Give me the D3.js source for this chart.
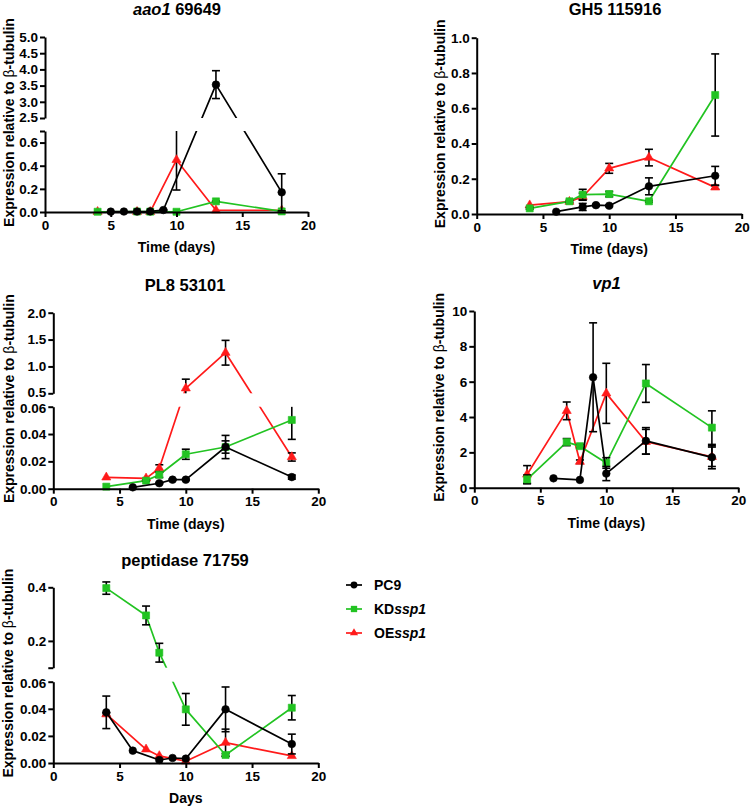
<!DOCTYPE html>
<html><head><meta charset="utf-8">
<script src="https://cdn.jsdelivr.net/npm/d3@7"></script>
<style>
body{margin:0;background:#fff}
svg text{font-family:"Liberation Sans",Arial,sans-serif;font-weight:bold;fill:#000}
</style>
</head><body>
<svg id="chart" width="750" height="809"></svg>
<script>
// ---------- shared ----------
const dayTicks = [0, 5, 10, 15, 20];
const seriesNames = ["PC9", "KD", "OE"];

// ---------- aao1 69649 ----------
const aao1_oe_days = [4, 7, 8, 10, 13, 18];
const aao1_oe = [0.002, 0.002, 0.002, 0.45, 0.015, 0.015];
const aao1_oe_err = [0, 0, 0, 0.26, 0, 0];
const aao1_kd_days = [4, 7, 8, 10, 13, 18];
const aao1_kd = [0.002, 0.004, 0.003, 0.002, 0.092, 0.005];
const aao1_kd_err = [0, 0, 0, 0, 0.004, 0];
const aao1_pc9_days = [5, 6, 7, 8, 9, 13, 18];
const aao1_pc9 = [0.003, 0.004, 0.004, 0.005, 0.017, 3.53, 0.17];
const aao1_pc9_err = [0, 0, 0, 0, 0.004, 0.43, 0.16];
const aao1_ticksLow = [0, 0.2, 0.4, 0.6, 0.7];
const aao1_labelsLow = ["0.0", "0.2", "0.4", "0.6", ""];
const aao1_ticksHigh = [2.5, 3.0, 3.5, 4.0, 4.5, 5.0];
const aao1_labelsHigh = ["2.5", "3.0", "3.5", "4.0", "4.5", "5.0"];

// ---------- GH5 115916 ----------
const gh5_oe_days = [4, 7, 8, 10, 13, 18];
const gh5_oe = [0.05, 0.07, 0.098, 0.259, 0.32, 0.151];
const gh5_oe_err = [0, 0, 0.02, 0.028, 0.047, 0.01];
const gh5_kd_days = [4, 7, 8, 10, 13, 18];
const gh5_kd = [0.032, 0.072, 0.11, 0.113, 0.072, 0.675];
const gh5_kd_err = [0.005, 0.005, 0.03, 0.015, 0.005, 0.233];
const gh5_pc9_days = [6, 8, 9, 10, 13, 18];
const gh5_pc9 = [0.013, 0.04, 0.05, 0.047, 0.157, 0.217];
const gh5_pc9_err = [0, 0.02, 0.005, 0.005, 0.048, 0.053];
const gh5_ticks = [0, 0.2, 0.4, 0.6, 0.8, 1.0];
const gh5_labels = ["0.0", "0.2", "0.4", "0.6", "0.8", "1.0"];

// ---------- PL8 53101 ----------
const pl8_oe_days = [4, 7, 8, 10, 13, 18];
const pl8_oe = [0.0083, 0.0076, 0.015, 0.593, 1.255, 0.0232];
const pl8_oe_err = [0, 0, 0.0025, 0.17, 0.23, 0.003];
const pl8_kd_days = [4, 7, 8, 10, 13, 18];
const pl8_kd = [0.0015, 0.0059, 0.0102, 0.0252, 0.0305, 0.0503];
const pl8_kd_err = [0, 0.0005, 0.002, 0.0037, 0.0045, 0.0142];
const pl8_pc9_days = [6, 8, 9, 10, 13, 18];
const pl8_pc9 = [0.001, 0.004, 0.0066, 0.0066, 0.0305, 0.0085];
const pl8_pc9_err = [0, 0.0005, 0.0005, 0.0005, 0.0085, 0.0015];
const pl8_ticksLow = [0, 0.02, 0.04, 0.06];
const pl8_labelsLow = ["0.00", "0.02", "0.04", "0.06"];
const pl8_ticksHigh = [0.5, 1.0, 1.5, 2.0];
const pl8_labelsHigh = ["0.5", "1.0", "1.5", "2.0"];

// ---------- vp1 ----------
const vp1_oe_days = [4, 7, 8, 10, 13, 18];
const vp1_oe = [0.75, 4.35, 1.47, 5.34, 2.6, 1.75];
const vp1_oe_err = [0.5, 0.5, 0.1, 1.7, 0.7, 0.55];
const vp1_kd_days = [4, 7, 8, 10, 13, 18];
const vp1_kd = [0.47, 2.58, 2.35, 1.4, 5.9, 3.4];
const vp1_kd_err = [0.25, 0.2, 0.1, 0.3, 1.07, 0.95];
const vp1_pc9_days = [6, 8, 9, 10, 13, 18];
const vp1_pc9 = [0.53, 0.44, 6.25, 0.8, 2.65, 1.72];
const vp1_pc9_err = [0, 0, 3.08, 0.4, 0.75, 0.65];
const vp1_ticks = [0, 2, 4, 6, 8, 10];
const vp1_labels = ["0", "2", "4", "6", "8", "10"];

// ---------- peptidase 71759 ----------
const pep_oe_days = [4, 7, 8, 10, 13, 18];
const pep_oe = [0.036, 0.0101, 0.0052, 0.0013, 0.015, 0.0052];
const pep_oe_err = [0.001, 0, 0, 0, 0.01, 0];
const pep_kd_days = [4, 7, 8, 10, 13, 18];
const pep_kd = [0.397, 0.295, 0.156, 0.0396, 0.0059, 0.0408];
const pep_kd_err = [0.023, 0.035, 0.035, 0.0117, 0.001, 0.009];
const pep_pc9_days = [4, 6, 8, 9, 10, 13, 18];
const pep_pc9 = [0.0374, 0.0091, 0.0022, 0.0037, 0.0032, 0.0396, 0.014];
const pep_pc9_err = [0.012, 0, 0, 0, 0, 0.0165, 0.0073];
const pep_ticksLow = [0, 0.02, 0.04, 0.06];
const pep_labelsLow = ["0.00", "0.02", "0.04", "0.06"];
const pep_ticksHigh = [0.1, 0.2, 0.4];
const pep_labelsHigh = ["", "0.2", "0.4"];

// ---------- styles ----------
const colors = {PC9: "#000000", KD: "#22c322", OE: "#ff1a1a"};
const symbols = {PC9: d3.symbolCircle, KD: d3.symbolSquare, OE: d3.symbolTriangle};
const symSize = {PC9: 46, KD: 50, OE: 36};

function mk(days, vals, err, name) { return {days, vals, err, name}; }

const panels = [
  {title: [["aao1", true], [" 69649", false]], tx: 177, ty: 15, x0: 45, x1: 308,
   xlab: "Time (days)",
   segs: [{dom: [0, 0.7], rng: [212, 131], ticks: aao1_ticksLow, labels: aao1_labelsLow},
          {dom: [2.5, 5], rng: [118, 37], ticks: aao1_ticksHigh, labels: aao1_labelsHigh}],
   series: [mk(aao1_oe_days, aao1_oe, aao1_oe_err, "OE"), mk(aao1_kd_days, aao1_kd, aao1_kd_err, "KD"), mk(aao1_pc9_days, aao1_pc9, aao1_pc9_err, "PC9")],
   ylx: 9},
  {title: [["GH5 115916", false]], tx: 615, ty: 15, x0: 476.7, x1: 741.7,
   xlab: "Time (days)",
   segs: [{dom: [0, 1.0], rng: [214, 37.7], ticks: gh5_ticks, labels: gh5_labels}],
   series: [mk(gh5_oe_days, gh5_oe, gh5_oe_err, "OE"), mk(gh5_kd_days, gh5_kd, gh5_kd_err, "KD"), mk(gh5_pc9_days, gh5_pc9, gh5_pc9_err, "PC9")],
   ylx: 440},
  {title: [["PL8 53101", false]], tx: 185, ty: 290.5, x0: 53.3, x1: 318.3,
   xlab: "Time (days)",
   segs: [{dom: [0, 0.06], rng: [488.7, 406.7], ticks: pl8_ticksLow, labels: pl8_labelsLow},
          {dom: [0.5, 2.0], rng: [393.3, 312.7], ticks: pl8_ticksHigh, labels: pl8_labelsHigh}],
   series: [mk(pl8_oe_days, pl8_oe, pl8_oe_err, "OE"), mk(pl8_kd_days, pl8_kd, pl8_kd_err, "KD"), mk(pl8_pc9_days, pl8_pc9, pl8_pc9_err, "PC9")],
   ylx: 9.5},
  {title: [["vp1", true]], tx: 606.5, ty: 289, x0: 474.3, x1: 738.3,
   xlab: "Time (days)",
   segs: [{dom: [0, 10], rng: [487.7, 311], ticks: vp1_ticks, labels: vp1_labels}],
   series: [mk(vp1_oe_days, vp1_oe, vp1_oe_err, "OE"), mk(vp1_kd_days, vp1_kd, vp1_kd_err, "KD"), mk(vp1_pc9_days, vp1_pc9, vp1_pc9_err, "PC9")],
   ylx: 439.5},
  {title: [["peptidase 71759", false]], tx: 185, ty: 565.5, x0: 53.3, x1: 318.3,
   xlab: "Days",
   segs: [{dom: [0, 0.06], rng: [763, 681.7], ticks: pep_ticksLow, labels: pep_labelsLow},
          {dom: [0.1, 0.4], rng: [667.7, 587.3], ticks: pep_ticksHigh, labels: pep_labelsHigh}],
   series: [mk(pep_oe_days, pep_oe, pep_oe_err, "OE"), mk(pep_kd_days, pep_kd, pep_kd_err, "KD"), mk(pep_pc9_days, pep_pc9, pep_pc9_err, "PC9")],
   ylx: 8.5}
];

const svg = d3.select("#chart");
const FONT_TICK = "bold 13.5px 'Liberation Sans', Arial, sans-serif";

panels.forEach(p => {
  const g = svg.append("g");
  const x = d3.scaleLinear().domain([0, 20]).range([p.x0, p.x1]);
  // piecewise (broken) y scale built from segments
  const dom = [], rng = [];
  p.segs.forEach(s => { dom.push(s.dom[0], s.dom[1]); rng.push(s.rng[0], s.rng[1]); });
  const y = d3.scaleLinear().domain(dom).range(rng);
  const gaps = [];
  for (let i = 0; i + 1 < p.segs.length; i++) gaps.push([p.segs[i + 1].rng[0], p.segs[i].rng[1]]);
  const inGap = py => gaps.some(gp => py > gp[0] - 0.8 && py < gp[1] + 0.8);
  const yMin = p.segs[0].dom[0];

  p.series.forEach(s => {
    const pts = s.days.map((d, i) => ({d, v: s.vals[i], e: s.err[i]}));
    const col = colors[s.name];
    g.append("path").datum(pts)
      .attr("d", d3.line().x(q => x(q.d)).y(q => y(q.v)))
      .attr("fill", "none").attr("stroke", col).attr("stroke-width", 1.7)
      .attr("stroke-linejoin", "round");
    // error bars (black)
    pts.filter(q => q.e > 0).forEach(q => {
      const cx = x(q.d), yt = y(q.v + q.e), yb = y(Math.max(q.v - q.e, yMin));
      g.append("line").attr("x1", cx).attr("x2", cx).attr("y1", yt).attr("y2", yb)
        .attr("stroke", "#000").attr("stroke-width", 1.6);
      [yt, yb].forEach(yy => {
        if (!inGap(yy) && yy < y(yMin) - 0.5)
          g.append("line").attr("x1", cx - 4).attr("x2", cx + 4).attr("y1", yy).attr("y2", yy)
            .attr("stroke", "#000").attr("stroke-width", 1.6);
      });
    });
    g.selectAll(null).data(pts).enter().append("path")
      .attr("d", d3.symbol().type(symbols[s.name]).size(symSize[s.name]))
      .attr("transform", q => `translate(${x(q.d)},${y(q.v)})`)
      .attr("fill", col).attr("stroke", col).attr("stroke-width", 0.6);
  });

  // erase the axis gap band
  gaps.forEach(gp => {
    g.append("rect").attr("x", p.x0 - 1).attr("y", gp[0]).attr("width", p.x1 - p.x0 + 12)
      .attr("height", gp[1] - gp[0]).attr("fill", "#fff");
  });

  // x axis
  const xa = g.append("g").attr("transform", `translate(0,${y(yMin)})`)
    .call(d3.axisBottom(x).tickValues(dayTicks).tickSize(5).tickPadding(3).tickSizeOuter(0))
    .style("font", FONT_TICK);
  xa.select(".domain").attr("stroke-width", 2).attr("stroke", "#000");
  xa.selectAll(".tick line").attr("stroke-width", 2);

  // y axis segments
  const nSeg = p.segs.length;
  p.segs.forEach((s, si) => {
    const ys = d3.scaleLinear().domain(s.dom).range(s.rng);
    const ya = g.append("g").attr("transform", `translate(${p.x0},0)`)
      .call(d3.axisLeft(ys).tickValues(s.ticks).tickSize(5).tickPadding(2).tickSizeOuter(0)
        .tickFormat((v, i) => s.labels[i]))
      .style("font", FONT_TICK);
    ya.select(".domain").attr("stroke-width", 2).attr("stroke", "#000");
    ya.selectAll(".tick line").attr("stroke-width", 2);
    // labels adjacent to a break: nudge apart slightly so they do not collide
    ya.selectAll(".tick text").attr("y", v => {
      if (si < nSeg - 1 && v === s.dom[1]) return 1.2;
      if (si > 0 && v === s.dom[0]) return -1.2;
      return 0;
    });
  });

  // title
  const t = g.append("text").attr("x", p.tx).attr("y", p.ty).attr("text-anchor", "middle")
    .style("font-size", "16.5px");
  p.title.forEach(([txt, it]) => t.append("tspan").text(txt).style("font-style", it ? "italic" : "normal"));

  // x label
  g.append("text").attr("x", (p.x0 + p.x1) / 2).attr("y", y(yMin) + 35).attr("dy", "0.35em")
    .attr("text-anchor", "middle").style("font-size", "14px").text(p.xlab);

  // y label
  const top = p.segs[p.segs.length - 1].rng[1], bot = p.segs[0].rng[0];
  const yl = g.append("text").attr("transform", `translate(${p.ylx},${(top + bot) / 2 - 2}) rotate(-90)`)
    .attr("text-anchor", "middle").attr("dy", "0.35em").style("font-size", "14px");
  yl.append("tspan").text("Expression relative to ");
  yl.append("tspan").text("β").style("font-weight", "normal");
  yl.append("tspan").text("-tubulin");
});

// legend
const legendItems = [
  {name: "PC9", parts: [["PC9", false]]},
  {name: "KD", parts: [["KD", false], ["ssp1", true]]},
  {name: "OE", parts: [["OE", false], ["ssp1", true]]}
];
const leg = svg.append("g");
legendItems.forEach((it, i) => {
  const yy = 585 + i * 24;
  const col = colors[it.name];
  leg.append("line").attr("x1", 346).attr("x2", 362).attr("y1", yy).attr("y2", yy)
    .attr("stroke", col).attr("stroke-width", 1.7);
  leg.append("path").attr("d", d3.symbol().type(symbols[it.name]).size(symSize[it.name] * 0.8)())
    .attr("transform", `translate(354,${yy})`).attr("fill", col);
  const t = leg.append("text").attr("x", 374).attr("y", yy).attr("dy", "0.35em").style("font-size", "14px");
  it.parts.forEach(([txt, itl]) => t.append("tspan").text(txt).style("font-style", itl ? "italic" : "normal"));
});
</script>
</body></html>
